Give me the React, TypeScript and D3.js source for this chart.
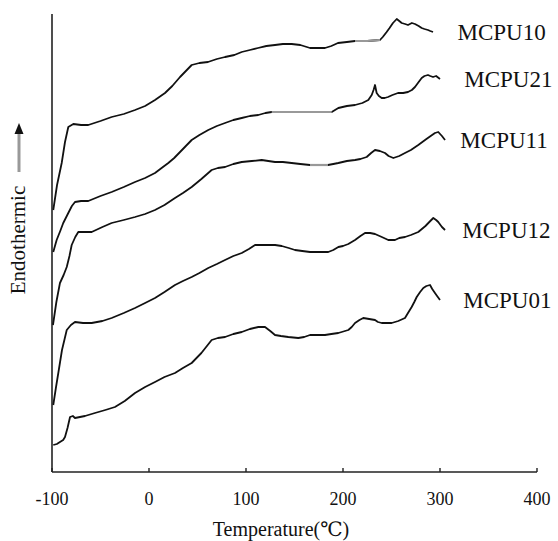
import React from 'react';
import * as d3 from 'd3';

type Pt = [number, number];

const seriesNames = ['MCPU10', 'MCPU21', 'MCPU11', 'MCPU12', 'MCPU01'];

const MCPU10: Pt[] = [
  [-98.7, 262], [-94.8, 287], [-90, 309], [-86.6, 330], [-83.2, 345], [-78, 348], [-70, 347], [-62.6, 347],
  [-50, 351], [-38.5, 355], [-26, 358], [-14.4, 362], [-4, 366], [6.2, 372], [16.5, 379], [24, 386], [32, 395],
  [44, 407], [52, 409], [60.8, 410], [70, 413], [78.4, 415], [88, 417], [95.6, 420], [104, 422], [112.4, 424],
  [121, 426], [129.9, 427], [138, 428], [147.1, 428], [156, 427], [166, 424], [174, 424], [181.4, 424],
  [188, 426], [194.8, 429], [204, 430], [212.4, 431], [225, 431], [238.1, 432], [241, 435], [245, 440],
  [248, 444], [251.5, 449], [255.4, 453], [258, 451], [260.5, 449], [264, 448], [267, 447], [271, 449],
  [274.2, 448], [278, 446], [281.1, 444], [284, 443], [287.6, 442], [290, 441], [292.8, 440],
];

const MCPU21: Pt[] = [
  [-98.7, 220], [-95.2, 232], [-91.5, 241], [-88.4, 249], [-83.2, 259], [-79.5, 266], [-76.3, 270], [-70, 271],
  [-62.6, 271], [-50, 276], [-38.5, 280], [-26, 285], [-14.4, 290], [-4, 294], [6.2, 299], [13, 304], [19.9, 309],
  [26, 314], [32, 320], [38, 326], [44, 332], [52, 337], [61.1, 342], [70, 346], [78.4, 349], [87, 352],
  [95.6, 354], [104, 356], [112.7, 357], [120, 359], [126.5, 360], [160, 360], [188.4, 360], [195.2, 364],
  [204, 366], [212.4, 367], [220, 369], [226.1, 372], [229.6, 377], [231.5, 382], [233, 387], [234.7, 379],
  [237, 376], [239.9, 374], [243, 374], [246.4, 375], [251, 377], [256.7, 379], [262, 379], [267, 380],
  [271, 382], [274.2, 385], [278, 390], [281.1, 394], [284, 396], [287.6, 397], [290, 396], [292.8, 395],
  [296, 396], [300, 393],
];

const MCPU11: Pt[] = [
  [-99, 147], [-95.5, 170], [-91.8, 189], [-88, 197], [-84.8, 205], [-82, 216], [-79.7, 227], [-76, 235],
  [-72.9, 240], [-66, 240], [-59.1, 240], [-48, 245], [-38.5, 249], [-26, 252], [-14.4, 255], [-4, 258],
  [6.2, 262], [16, 267], [26.8, 274], [35, 279], [44, 285], [54, 293], [64.6, 302], [71, 304], [78.4, 305],
  [87, 308], [95.6, 310], [106, 311], [116.2, 312], [123, 311], [129.9, 310], [138, 310], [147.1, 309],
  [156, 308], [166, 307], [175, 307], [184.5, 307], [190, 308], [195.2, 309], [204, 311], [212.4, 312],
  [218, 313], [224.4, 315], [229, 319], [233, 322], [238, 321], [243.3, 319], [247, 316], [251.9, 314],
  [258, 316], [263.9, 319], [270, 322], [277.6, 327], [286, 333], [294.8, 339], [298.2, 340], [302, 336],
  [305.2, 332],
];

const MCPU12: Pt[] = [
  [-98.7, 67], [-96, 84], [-93.5, 99], [-89.7, 122], [-87, 133], [-84.8, 142], [-80.5, 147], [-76.3, 150],
  [-68, 149], [-59.1, 149], [-48, 151], [-38.5, 154], [-26, 159], [-14.4, 164], [-4, 169], [6.2, 174],
  [16, 180], [26.8, 187], [35, 191], [44, 195], [52, 199], [61.1, 204], [70, 208], [78.4, 212], [87, 216],
  [95.6, 219], [103, 223], [109.3, 227], [116, 227], [123, 227], [130, 227], [136.8, 226], [144, 224],
  [150.5, 222], [158, 221], [166, 220], [175, 220], [184.8, 220], [190, 222], [195.2, 225], [200, 226],
  [205.5, 228], [212.4, 232], [218, 236], [222.7, 239], [228, 239], [233, 238], [240, 235], [246.7, 232],
  [253.6, 232], [258, 234], [263.9, 235], [270, 237], [277.6, 240], [285, 246], [290, 251], [293.1, 254],
  [296, 252], [298.2, 250], [302, 245], [305.2, 242],
];

const MCPU01: Pt[] = [
  [-98.7, 27], [-95, 28], [-91.8, 30], [-88.5, 32], [-86.6, 35], [-84, 44], [-81.4, 55], [-78.5, 56],
  [-76.3, 54], [-66, 56], [-55.7, 59], [-45, 62], [-35.1, 65], [-25, 71], [-14.4, 79], [-4, 85], [6.2, 90],
  [16, 95], [26.8, 99], [35, 104], [44, 109], [54, 119], [64.6, 132], [71, 134], [78.4, 135], [87, 138],
  [95.6, 140], [104, 143], [112.7, 145], [119.6, 145], [125, 141], [129.9, 137], [136, 136], [143.6, 135],
  [153.9, 134], [160, 135], [166, 137], [174, 137], [181.4, 137], [188, 138], [195.2, 139], [205.5, 142],
  [209, 145], [212.4, 149], [217, 152], [220.9, 154], [227, 153], [233, 152], [236, 150], [239.9, 149],
  [245, 149], [250.2, 149], [257, 151], [263.9, 154], [267, 159], [270.8, 165], [273.5, 170], [276, 175],
  [279.5, 180], [282.8, 184], [286, 186], [289.7, 187], [292, 183], [294.8, 179], [297, 176], [300, 172],
];

const seriesData: Pt[][] = [MCPU10, MCPU21, MCPU11, MCPU12, MCPU01];

// temperature ranges where the trace is drawn in grey
const greyRanges: ([number, number] | null)[] = [[212.4, 238.1], [126.5, 188.4], [166, 184.5], null, null];

// label anchor temperatures
const labelT = [318, 325, 321, 323, 324];

const xTicks = [-100, 0, 100, 200, 300, 400];

const W = 558;
const H = 541;

export default function App() {
  const x = d3.scaleLinear().domain([-100, 400]).range([52, 537]);
  const y = d3.scaleLinear().domain([0, 458]).range([472, 14]);
  const line = d3
    .line<Pt>()
    .x((d) => x(d[0]))
    .y((d) => y(d[1]))
    .curve(d3.curveLinear);

  const serif = "'Liberation Serif', 'DejaVu Serif', serif";

  return (
    <svg
      width={W}
      height={H}
      style={{ position: 'absolute', left: 0, top: 0, background: '#fff' }}
      xmlns="http://www.w3.org/2000/svg"
    >
      <rect x={0} y={0} width={W} height={H} fill="#fff" />
      {/* axes */}
      <line x1={x(-100)} x2={x(-100)} y1={y(458)} y2={y(0)} stroke="#222" strokeWidth={1.6} />
      <line x1={x(-100)} x2={x(400)} y1={y(0)} y2={y(0)} stroke="#222" strokeWidth={1.6} />
      {xTicks.map((t) => (
        <g key={t}>
          <line x1={x(t)} x2={x(t)} y1={y(0)} y2={y(0) - 4} stroke="#222" strokeWidth={1.4} />
          <text
            x={x(t)}
            y={y(0) + 33}
            textAnchor="middle"
            fontFamily={serif}
            fontSize={18}
            fill="#111"
          >
            {t}
          </text>
        </g>
      ))}
      <text x={281} y={536} textAnchor="middle" fontFamily={serif} fontSize={20} fill="#111">
        Temperature(℃)
      </text>

      {/* y label with arrow */}
      <text
        transform={`translate(25, 240) rotate(-90)`}
        textAnchor="middle"
        fontFamily={serif}
        fontSize={21}
        fill="#111"
      >
        Endothermic
      </text>
      <line x1={19} x2={19} y1={172} y2={133} stroke="#999" strokeWidth={3} />
      <path d="M19,123 L14.5,134 L23.5,134 Z" fill="#111" />

      {/* traces */}
      {seriesData.map((d, i) => {
        const gr = greyRanges[i];
        const greyPts = gr ? d.filter((p) => p[0] >= gr[0] && p[0] <= gr[1]) : [];
        const last = d[d.length - 1];
        return (
          <g key={seriesNames[i]}>
            <path d={line(d) || ''} fill="none" stroke="#111" strokeWidth={1.8} strokeLinejoin="round" />
            {greyPts.length > 1 && (
              <path d={line(greyPts) || ''} fill="none" stroke="#999" strokeWidth={2.2} />
            )}
            <text
              x={x(labelT[i])}
              y={y(last[1]) + 8}
              fontFamily={serif}
              fontSize={23}
              fill="#111"
            >
              {seriesNames[i]}
            </text>
          </g>
        );
      })}
    </svg>
  );
}
